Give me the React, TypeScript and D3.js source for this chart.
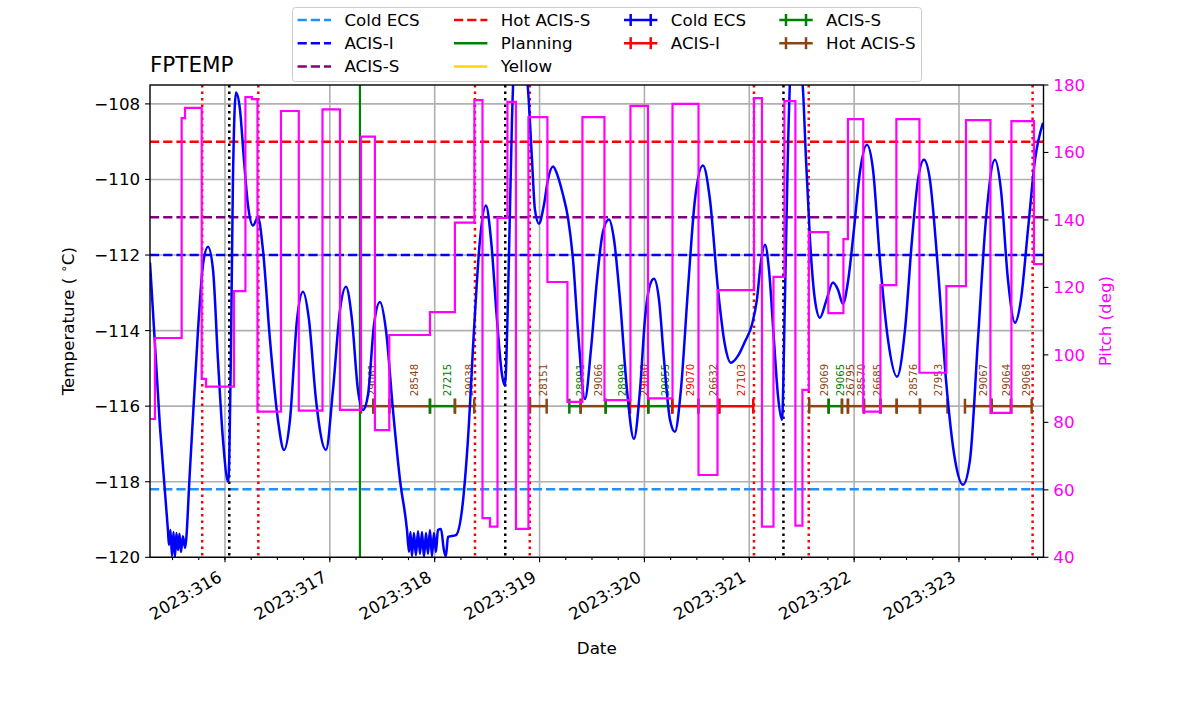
import React from "react";
import * as d3 from "d3";

const W = 1200;
const H = 714;
const AX = { left: 150, right: 1043.5, top: 85, bottom: 557.3 };
const FONT = "DejaVu Sans, Liberation Sans, sans-serif";

// ---------- data ----------
const dayTicks = [316, 317, 318, 319, 320, 321, 322, 323];
const tempTicks = [-120, -118, -116, -114, -112, -110, -108];
const pitchTicks = [40, 60, 80, 100, 120, 140, 160, 180];
const xDomain = [315.285, 323.806];
const tempDomain = [-120, -107.5];
const pitchDomain = [40, 180];

const tempTimes = [
  315.285, 315.38, 315.456, 315.466, 315.48, 315.495, 315.509, 315.523, 315.537, 315.552, 315.566, 315.58, 315.599, 315.619,
  315.666, 315.743, 315.79, 315.838, 315.886, 315.933, 315.981, 316.031, 316.057, 316.076, 316.105, 316.143, 316.181, 316.219,
  316.267, 316.315, 316.362, 316.429, 316.505, 316.563, 316.62, 316.687, 316.744, 316.801, 316.868, 316.963, 317.03, 317.097,
  317.154, 317.211, 317.268, 317.316, 317.364, 317.421, 317.478, 317.535, 317.602, 317.669, 317.736, 317.755, 317.769, 317.783,
  317.802, 317.821, 317.841, 317.86, 317.879, 317.898, 317.917, 317.936, 317.955, 317.974, 317.993, 318.012, 318.031, 318.06,
  318.088, 318.107, 318.127, 318.203, 318.26, 318.317, 318.375, 318.432, 318.489, 318.537, 318.594, 318.642, 318.67, 318.699,
  318.737, 318.775, 318.823, 318.861, 318.89, 318.928, 318.956, 318.994, 319.042, 319.08, 319.128, 319.176, 319.223, 319.271,
  319.319, 319.366, 319.433, 319.49, 319.548, 319.605, 319.662, 319.71, 319.767, 319.834, 319.9, 319.958, 320.005, 320.053,
  320.091, 320.139, 320.187, 320.244, 320.291, 320.348, 320.415, 320.482, 320.558, 320.625, 320.702, 320.768, 320.825, 320.892,
  320.959, 321.026, 321.073, 321.111, 321.15, 321.188, 321.235, 321.273, 321.312, 321.34, 321.369, 321.398, 321.445, 321.483,
  321.512, 321.541, 321.579, 321.626, 321.674, 321.731, 321.798, 321.846, 321.893, 321.941, 321.998, 322.056, 322.122, 322.18,
  322.246, 322.323, 322.409, 322.485, 322.552, 322.609, 322.666, 322.723, 322.8, 322.876, 322.962, 323.038, 323.105, 323.181,
  323.257, 323.343, 323.4, 323.467, 323.534, 323.591, 323.658, 323.725, 323.801,
];
const tempValues = [
  -112.2, -116.55, -119.28, -119.67, -119.28, -119.97, -119.33, -119.99, -119.36, -119.81, -119.38, -119.86, -119.44, -119.75,
  -117.69, -113.98, -112.26, -111.78, -112.39, -114.77, -116.89, -118.01, -114.51, -110.01, -107.7, -108.15, -109.48, -110.67,
  -111.22, -111.01, -111.86, -114.24, -116.36, -117.16, -116.36, -113.71, -112.97, -113.71, -115.83, -117.16, -115.57, -113.45,
  -112.84, -113.71, -115.57, -116.1, -115.7, -113.85, -113.24, -113.98, -116.1, -117.95, -119.28, -119.86, -119.33, -119.97,
  -119.36, -119.94, -119.31, -119.91, -119.33, -119.99, -119.36, -119.91, -119.28, -119.97, -119.36, -119.86, -119.28, -119.25,
  -119.81, -119.97, -119.46, -119.41, -118.75, -116.89, -113.98, -111.59, -110.69, -111.59, -113.71, -115.17, -115.46, -113.18,
  -108.42, -106.03, -105.76, -106.83, -107.62, -109.48, -110.8, -111.17, -110.67, -110.01, -109.66, -109.93, -110.4, -111.01,
  -112.12, -113.98, -115.81, -114.51, -112.65, -111.38, -111.06, -111.59, -113.18, -115.57, -116.87, -115.57, -113.71, -112.79,
  -112.63, -113.18, -114.77, -116.36, -116.68, -115.57, -112.92, -110.53, -109.63, -110.53, -112.92, -114.38, -114.85, -114.67,
  -114.29, -113.84, -113.18, -112.18, -111.73, -112.39, -114.24, -115.7, -116.36, -113.18, -109.21, -106.83, -106.03, -106.83,
  -107.62, -109.48, -111.59, -113.18, -113.66, -113.24, -112.73, -112.92, -113.29, -112.71, -111.33, -109.79, -109.08, -109.74,
  -112.12, -114.24, -115.22, -113.98, -111.59, -110.01, -109.48, -110.01, -112.39, -115.3, -117.42, -118.08, -117.42, -114.24,
  -111.06, -109.48, -110.27, -112.65, -113.79, -113.18, -111.33, -109.48, -108.5,
];

const pitchTimes = [
  315.285, 315.332, 315.587, 315.619, 315.778, 315.819, 316.086, 316.195, 316.257, 316.31, 316.534, 316.704, 316.93, 317.097,
  317.297, 317.43, 317.567, 317.955, 318.193, 318.379, 318.456, 318.527, 318.599, 318.694, 318.775, 318.894, 319.075, 319.266,
  319.409, 319.619, 319.867, 320.034, 320.268, 320.516, 320.697, 321.045, 321.121, 321.231, 321.335, 321.44, 321.507, 321.568,
  321.754, 321.898, 321.941, 322.087, 322.251, 322.403, 322.623, 322.88, 323.067, 323.3, 323.5, 323.715,
];
const pitchValues = [
  81.0, 105.0, 170.2, 173.2, 92.9, 90.6, 118.9, 176.4, 175.8, 83.2, 172.3, 83.5, 172.8, 83.7, 164.7, 77.7, 105.9, 112.7, 139.2,
  175.5, 51.6, 49.1, 140.6, 175.0, 48.4, 170.5, 121.6, 86.1, 170.5, 86.6, 173.8, 87.1, 174.4, 64.4, 119.2, 176.1, 49.1, 123.1,
  175.2, 49.4, 89.6, 136.4, 112.4, 134.3, 169.9, 83.2, 120.7, 169.9, 94.7, 120.4, 169.6, 82.8, 169.3, 126.9,
];
const pitchEnd = 323.806;

const limitNames = ["Cold ECS", "ACIS-I", "ACIS-S", "Hot ACIS-S"];
const limitValues = [-118.2, -112.0, -111.0, -109.0];
const limitColors = ["#1e90ff", "#0000ff", "#800080", "#ff0000"];

const radTimes = [315.783, 316.318, 318.384, 318.907, 321.045, 321.567, 323.702];
const perigeeTimes = [316.041, 318.673, 321.326];
const planningTimes = [317.287];

const obsidLevel = -116;
const obsidLabels = [
  "29061", "", "28548", "27215", "29038", "28151", "28991", "29066", "28999", "29060", "29055", "29070", "26632", "27103",
  "29069", "29065", "26795", "28570", "26685", "", "28576", "27953", "29067", "29064", "29068",
];
const obsidStart = [
  317.297, 317.414, 317.567, 317.955, 318.193, 318.909, 319.284, 319.392, 319.631, 319.862, 320.037, 320.266, 320.514, 320.714,
  321.572, 321.757, 321.884, 321.941, 322.094, 322.251, 322.406, 322.628, 323.057, 323.312, 323.496,
];
const obsidStop = [
  317.414, 317.567, 317.955, 318.193, 318.377, 319.068, 319.392, 319.631, 319.862, 320.037, 320.266, 320.514, 320.714, 321.038,
  321.757, 321.884, 321.941, 322.094, 322.251, 322.406, 322.628, 322.89, 323.312, 323.496, 323.693,
];
const obsidModes = [
  "hot", "hot", "hot", "acis-s", "hot", "hot", "acis-s", "hot", "acis-s", "acis-i", "acis-s", "acis-i", "hot", "acis-i",
  "hot", "acis-s", "hot", "hot", "hot", "hot", "hot", "hot", "hot", "hot", "hot",
];
const modeColors: Record<string, string> = {
  "cold-ecs": "#0000ff",
  "acis-i": "#ff0000",
  "acis-s": "#008000",
  hot: "#8b4513",
};

// ---------- component ----------
export default function App() {
  const x = d3.scaleLinear().domain(xDomain).range([AX.left, AX.right]);
  const yT = d3.scaleLinear().domain(tempDomain).range([AX.bottom, AX.top]);
  const yP = d3.scaleLinear().domain(pitchDomain).range([AX.bottom, AX.top]);

  const tempPts = tempTimes.map((t, i) => [t, tempValues[i]] as [number, number]);
  const tempPath = d3
    .line<[number, number]>()
    .x((d) => x(d[0]))
    .y((d) => yT(d[1]))
    .curve(d3.curveMonotoneX)(tempPts) as string;

  const pitchPts = pitchTimes.map((t, i) => [t, pitchValues[i]] as [number, number]);
  pitchPts.push([pitchEnd, pitchValues[pitchValues.length - 1]]);
  const pitchPath = d3
    .line<[number, number]>()
    .x((d) => x(d[0]))
    .y((d) => yP(d[1]))
    .curve(d3.curveStepAfter)(pitchPts) as string;

  const minorTicks = d3.range(Math.ceil(xDomain[0] * 4), Math.floor(xDomain[1] * 4) + 1).map((v) => v / 4);

  const fs = 16.7;
  const grid = "#b0b0b0";

  // legend layout
  const legCols = [297.6, 454, 624, 779.3];
  const legRows = [20, 43.2, 66.4];
  const hl = 33.4;
  const legendItems: { col: number; row: number; kind: string; color: string; label: string }[] = [
    { col: 0, row: 0, kind: "dash", color: limitColors[0], label: limitNames[0] },
    { col: 0, row: 1, kind: "dash", color: limitColors[1], label: limitNames[1] },
    { col: 0, row: 2, kind: "dash", color: limitColors[2], label: limitNames[2] },
    { col: 1, row: 0, kind: "dash", color: limitColors[3], label: limitNames[3] },
    { col: 1, row: 1, kind: "solid", color: "#008000", label: "Planning" },
    { col: 1, row: 2, kind: "solid", color: "#ffd700", label: "Yellow" },
    { col: 2, row: 0, kind: "err", color: modeColors["cold-ecs"], label: "Cold ECS" },
    { col: 2, row: 1, kind: "err", color: modeColors["acis-i"], label: "ACIS-I" },
    { col: 3, row: 0, kind: "err", color: modeColors["acis-s"], label: "ACIS-S" },
    { col: 3, row: 1, kind: "err", color: modeColors["hot"], label: "Hot ACIS-S" },
  ];

  const y116 = yT(obsidLevel);

  return (
    <svg width={W} height={H} viewBox={`0 0 ${W} ${H}`} style={{ display: "block", position: "absolute", left: 0, top: 0 }} fontFamily={FONT}>
      <defs>
        <clipPath id="axclip">
          <rect x={AX.left} y={AX.top} width={AX.right - AX.left} height={AX.bottom - AX.top} />
        </clipPath>
      </defs>
      <rect x={0} y={0} width={W} height={H} fill="#ffffff" />

      {/* grid */}
      <g stroke={grid} strokeWidth={1.6}>
        {dayTicks.map((d) => (
          <line key={"gx" + d} x1={x(d)} x2={x(d)} y1={AX.top} y2={AX.bottom} />
        ))}
        {tempTicks.map((t) => (
          <line key={"gy" + t} x1={AX.left} x2={AX.right} y1={yT(t)} y2={yT(t)} />
        ))}
      </g>

      <g clipPath="url(#axclip)">
        {/* limit lines */}
        {limitValues.map((v, i) => (
          <line key={"lim" + i} x1={AX.left} x2={AX.right} y1={yT(v)} y2={yT(v)} stroke={limitColors[i]} strokeWidth={2.5} strokeDasharray="9.2,4" />
        ))}
        {/* rad zone lines */}
        {radTimes.map((t, i) => (
          <line key={"rad" + i} x1={x(t)} x2={x(t)} y1={AX.top} y2={AX.bottom} stroke="#ff0000" strokeWidth={2.5} strokeDasharray="2.5,4" />
        ))}
        {perigeeTimes.map((t, i) => (
          <line key={"per" + i} x1={x(t)} x2={x(t)} y1={AX.top} y2={AX.bottom} stroke="#000000" strokeWidth={2.5} strokeDasharray="2.5,4" />
        ))}
        {planningTimes.map((t, i) => (
          <line key={"plan" + i} x1={x(t)} x2={x(t)} y1={AX.top} y2={AX.bottom} stroke="#008000" strokeWidth={2.2} />
        ))}

        {/* obsid segments */}
        {obsidLabels.map((lab, i) => {
          const c = modeColors[obsidModes[i]];
          const x0 = x(obsidStart[i]);
          const x1 = x(obsidStop[i]);
          return (
            <g key={"ob" + i} stroke={c} strokeWidth={2.5}>
              <line x1={x0} x2={x1} y1={y116} y2={y116} />
              <line x1={x0} x2={x0} y1={y116 - 7.5} y2={y116 + 7.5} />
              <line x1={x1} x2={x1} y1={y116 - 7.5} y2={y116 + 7.5} />
            </g>
          );
        })}
        {obsidLabels.map((lab, i) => {
          if (!lab) return null;
          const c = modeColors[obsidModes[i]];
          const xm = (x(obsidStart[i]) + x(obsidStop[i])) / 2 + 8.6;
          return (
            <text key={"obl" + i} transform={`translate(${xm},${y116 - 10}) rotate(-90)`} fontSize={10.2} fill={c} textAnchor="start">
              {lab}
            </text>
          );
        })}

        {/* temperature */}
        <path d={tempPath} fill="none" stroke="#0000ff" strokeWidth={2.5} strokeLinejoin="round" />
        {/* pitch */}
        <path d={pitchPath} fill="none" stroke="#ff00ff" strokeWidth={2.2} />
      </g>

      {/* spines */}
      <rect x={AX.left} y={AX.top} width={AX.right - AX.left} height={AX.bottom - AX.top} fill="none" stroke="#000" strokeWidth={1.4} />

      {/* ticks */}
      <g stroke="#000">
        {minorTicks.map((t) => (
          <line key={"mt" + t} x1={x(t)} x2={x(t)} y1={AX.bottom} y2={AX.bottom + 2.8} strokeWidth={1.1} />
        ))}
        {dayTicks.map((t) => (
          <line key={"Mt" + t} x1={x(t)} x2={x(t)} y1={AX.bottom} y2={AX.bottom + 4.9} strokeWidth={1.1} />
        ))}
        {tempTicks.map((t) => (
          <line key={"yt" + t} x1={AX.left - 4.9} x2={AX.left} y1={yT(t)} y2={yT(t)} strokeWidth={1.1} />
        ))}
        {pitchTicks.map((t) => (
          <line key={"pt" + t} x1={AX.right} x2={AX.right + 4.9} y1={yP(t)} y2={yP(t)} strokeWidth={1.1} />
        ))}
      </g>
      <g fontSize={fs} fill="#000">
        {dayTicks.map((t) => (
          <text key={"xl" + t} transform={`translate(${x(t) - 2},${580.4}) rotate(-30)`} textAnchor="end">
            {`2023:${t}`}
          </text>
        ))}
        {tempTicks.map((t) => (
          <text key={"yl" + t} x={AX.left - 9.8} y={yT(t) + 6} textAnchor="end">
            {d3.format("d")(t).replace("-", "\u2212")}
          </text>
        ))}
      </g>
      <g fontSize={fs} fill="#ff00ff">
        {pitchTicks.map((t) => (
          <text key={"pl" + t} x={AX.right + 9.8} y={yP(t) + 6} textAnchor="start">
            {t}
          </text>
        ))}
      </g>

      {/* axis labels */}
      <text x={(AX.left + AX.right) / 2} y={654} fontSize={fs} textAnchor="middle" fill="#000">
        Date
      </text>
      <text transform={`translate(${74},${(AX.top + AX.bottom) / 2}) rotate(-90)`} fontSize={fs} textAnchor="middle" fill="#000">
        {"Temperature ( "}
        <tspan fontSize={fs * 0.7} dy={-6}>{"\u2218"}</tspan>
        <tspan dy={6}>C)</tspan>
      </text>
      <text transform={`translate(${1111},${(AX.top + AX.bottom) / 2}) rotate(-90)`} fontSize={fs} textAnchor="middle" fill="#ff00ff">
        Pitch (deg)
      </text>

      {/* title */}
      <text x={AX.left} y={72} fontSize={21.5} fill="#000">
        FPTEMP
      </text>

      {/* legend */}
      <g>
        <rect x={292.5} y={7.5} width={629} height={74} rx={3} fill="#ffffff" fillOpacity={0.8} stroke="#cccccc" strokeWidth={1} />
        {legendItems.map((it, i) => {
          const x0 = legCols[it.col];
          const yc = legRows[it.row];
          return (
            <g key={"leg" + i}>
              {it.kind === "dash" && (
                <line x1={x0} x2={x0 + hl} y1={yc} y2={yc} stroke={it.color} strokeWidth={2.5} strokeDasharray="9.2,4" />
              )}
              {it.kind === "solid" && <line x1={x0} x2={x0 + hl} y1={yc} y2={yc} stroke={it.color} strokeWidth={2.5} />}
              {it.kind === "err" && (
                <g stroke={it.color} strokeWidth={2.5}>
                  <line x1={x0} x2={x0 + hl} y1={yc} y2={yc} />
                  <line x1={x0 + hl * 0.2} x2={x0 + hl * 0.2} y1={yc - 6} y2={yc + 6} />
                  <line x1={x0 + hl * 0.8} x2={x0 + hl * 0.8} y1={yc - 6} y2={yc + 6} />
                </g>
              )}
              <text x={x0 + 46.8} y={yc + 6} fontSize={fs} fill="#000">
                {it.label}
              </text>
            </g>
          );
        })}
      </g>
    </svg>
  );
}
